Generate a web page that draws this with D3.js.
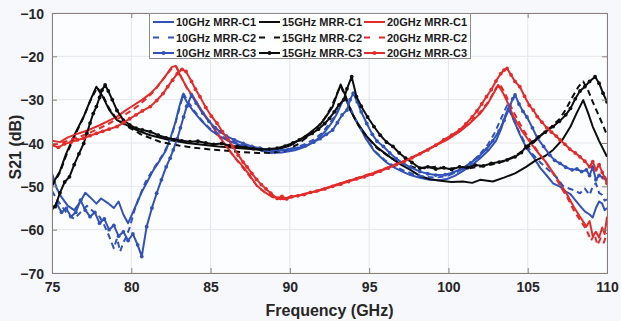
<!DOCTYPE html>
<html><head><meta charset="utf-8">
<script src="https://cdn.jsdelivr.net/npm/d3@7"></script>
<style>html,body{margin:0;padding:0;background:#f6f8fb;} svg{display:block;font-family:"Liberation Sans",Arial,sans-serif;}</style>
</head><body><svg id="c" width="621" height="321"></svg>
<script>
const xTicks=[75,80,85,90,95,100,105,110];
const yTicks=[-10,-20,-30,-40,-50,-60,-70];
const xLabel="Frequency (GHz)";
const yLabel="S21 (dB)";

const blueC1=[[75,-47],[75.3,-50.5],[75.6,-52.5],[76,-54.5],[76.4,-55.5],[76.8,-53.5],[77.1,-51.5],[77.4,-52.5],[77.8,-54],[78.1,-52.8],[78.5,-53.8],[78.9,-55],[79.2,-53.5],[79.5,-56.5],[79.8,-58.5],[80.1,-56],[80.4,-53.5],[80.7,-51],[81,-49],[81.4,-46.2],[81.8,-44],[82.2,-41.6],[82.5,-38.5],[82.8,-35],[83,-32],[83.25,-28.8],[83.5,-30.5],[83.9,-32.6],[84.4,-34.8],[85,-37],[85.5,-38.3],[86,-39.3],[87,-40.7],[88,-41.5],[88.7,-42.3],[89.5,-42.2],[90.4,-41.6],[91,-40.8],[91.5,-39.8],[91.9,-38.6],[92.3,-37],[92.7,-35],[93,-33],[93.3,-30.5],[93.5,-29.7],[93.8,-32],[94.1,-34.5],[94.4,-36.2],[94.8,-39],[95.3,-41.8],[96,-44.2],[96.5,-45.5],[97.1,-46.6],[97.6,-47.4],[98.2,-48],[98.8,-48.5],[99.4,-48.6],[99.9,-48.3],[100.4,-47.6],[100.9,-46.5],[101.5,-45],[102,-43.5],[102.5,-41.8],[103,-39.5],[103.35,-36.5],[103.6,-33.5],[103.8,-31.8],[104.1,-34.5],[104.5,-38],[104.9,-41],[105.35,-43.2],[105.8,-45.8],[106.2,-47.5],[106.6,-49.3],[107,-50],[107.4,-51.2],[107.7,-51.8],[108,-53.2],[108.3,-54.5],[108.6,-55.8],[108.9,-56.5],[109.1,-57.2],[109.3,-55],[109.5,-53.5],[109.7,-54],[109.85,-55.5],[110,-55]];
const blueC2=[[75,-51],[75.3,-53],[75.7,-55],[76,-56.5],[76.4,-57.5],[76.8,-56],[77.2,-54.5],[77.6,-55.8],[78,-57],[78.3,-59],[78.6,-61.5],[78.9,-64.3],[79.1,-62],[79.3,-65],[79.5,-63],[79.7,-61.5],[79.9,-59.5],[80.2,-55.5],[80.5,-52.5],[80.9,-49],[81.3,-46.5],[81.7,-44.3],[82.1,-42],[82.5,-38.8],[82.8,-35.2],[83.05,-31.8],[83.3,-28.6],[83.55,-30.3],[83.95,-32.5],[84.5,-35],[85,-36.8],[85.6,-38.3],[86.2,-39.4],[87,-40.5],[88,-41.3],[88.8,-41.9],[89.6,-41.7],[90.4,-41],[91,-40.2],[91.5,-39.2],[92,-37.8],[92.4,-36],[92.8,-34],[93.1,-31.8],[93.45,-29.5],[93.75,-31.5],[94.1,-34.2],[94.5,-37],[94.9,-39.5],[95.4,-42],[96,-44],[96.6,-45.4],[97.2,-46.4],[97.8,-47.2],[98.5,-47.8],[99.2,-48],[99.9,-47.6],[100.5,-46.8],[101,-45.7],[101.5,-44.3],[102,-42.5],[102.5,-40.3],[102.9,-37.8],[103.3,-34.5],[103.7,-31.3],[104,-33.8],[104.4,-37],[104.8,-39.8],[105.3,-42.5],[105.8,-44.5],[106.3,-46.2],[106.8,-47.8],[107.2,-49.8],[107.6,-50.5],[108,-51],[108.3,-51.6],[108.6,-50.5],[108.9,-52],[109.1,-50],[109.3,-49.3],[109.5,-51.5],[109.7,-52],[109.85,-53.3],[110,-53]];
const blueC3=[[75,-55],[75.3,-54],[75.6,-56],[75.9,-55.1],[76.2,-57],[76.5,-56],[76.8,-53.2],[77.1,-55.5],[77.4,-57],[77.7,-56],[78,-58.5],[78.3,-57.5],[78.6,-60],[78.9,-59],[79.2,-61.5],[79.5,-60.5],[79.8,-62.5],[80.1,-61],[80.4,-63.5],[80.66,-66.2],[80.97,-59.3],[81.3,-55],[81.6,-51.6],[81.9,-48.5],[82.2,-45.5],[82.45,-43.5],[82.65,-41.6],[82.9,-39],[83.1,-36.5],[83.3,-34],[83.5,-31.5],[83.8,-28.9],[84.1,-30.8],[84.5,-33.1],[84.9,-35],[85.3,-36.5],[85.6,-37.4],[86,-38.4],[86.5,-39.3],[87.06,-40.1],[87.6,-40.8],[88.1,-41.2],[88.7,-41.6],[89.3,-41.7],[89.9,-41.5],[90.5,-41.2],[91,-40.6],[91.5,-39.8],[91.9,-39],[92.3,-38],[92.7,-37],[93,-35.3],[93.3,-33.5],[93.6,-32.4],[93.8,-30],[94,-28.5],[94.25,-30.5],[94.5,-32.8],[94.85,-35.5],[95.2,-38],[95.5,-39.6],[95.9,-40.8],[96.3,-42.3],[96.7,-43.6],[97.15,-44.7],[97.6,-45.6],[98.2,-46.6],[98.7,-47.1],[99.2,-47.4],[99.8,-47.3],[100.3,-46.8],[100.9,-45.8],[101.4,-44.6],[101.9,-43.2],[102.4,-41.4],[102.8,-39.5],[103.2,-37.2],[103.5,-34.8],[103.8,-32.3],[104.05,-29.8],[104.2,-28.9],[104.45,-31],[104.7,-32.7],[104.95,-34],[105.3,-36.5],[105.6,-38.8],[106,-40.8],[106.4,-42.8],[106.7,-44],[107.04,-44.7],[107.4,-45.6],[107.8,-46.2],[108.1,-46],[108.4,-46.6],[108.7,-46.2],[108.9,-47.5],[109.1,-45.5],[109.3,-48.5],[109.5,-47.5],[109.75,-48],[110,-48.5]];

const blackC1=[[75,-49.7],[75.5,-46.5],[75.9,-42.4],[76.5,-37.5],[77,-33.9],[77.4,-30.3],[77.8,-27],[78.2,-29.3],[78.6,-32.3],[79.1,-34.7],[79.9,-36.2],[80.5,-37.3],[81.2,-38.2],[82.4,-39.3],[83.5,-40],[84.5,-40.4],[85.5,-40.8],[86.5,-41.1],[87.5,-41.4],[88.5,-41.6],[89.3,-41.4],[90,-40.6],[90.6,-39.3],[91.2,-37.8],[91.9,-35.8],[92.3,-33.8],[92.7,-31.6],[93,-28.5],[93.2,-26.5],[93.5,-29],[93.8,-32.4],[94.3,-35.6],[94.85,-38.5],[95.5,-41],[96.3,-43.2],[97,-45],[97.6,-46.2],[98.2,-47.6],[98.8,-48.3],[99.5,-48.7],[100.2,-49],[100.9,-48.9],[101.5,-49.2],[102,-48.5],[102.8,-48.9],[103.5,-48],[104.2,-47],[104.9,-45.5],[105.5,-44],[106.1,-43],[106.6,-41.6],[107.2,-39.2],[107.7,-36.2],[108.1,-33],[108.5,-30.1],[108.8,-33],[109.1,-36.2],[109.5,-39.5],[110,-43.2]];
const blackC2=[[75,-50],[75.5,-46.8],[75.9,-42.8],[76.5,-37.8],[77,-34],[77.4,-30.4],[77.85,-27.2],[78.2,-29],[78.6,-32],[79.1,-34.6],[79.9,-36.5],[80.6,-38],[81.8,-39.7],[83,-40.6],[84,-41.1],[85,-41.5],[86,-41.8],[87,-42.1],[88,-42.3],[89,-42.2],[89.8,-41.6],[90.5,-40.3],[91.1,-38.6],[91.7,-36.5],[92.2,-34.3],[92.6,-31.8],[92.95,-28.8],[93.2,-26.8],[93.5,-29.3],[93.85,-32.6],[94.3,-35.8],[94.9,-38.8],[95.5,-41.2],[96.3,-43.3],[97,-44.7],[97.8,-45.6],[98.5,-45.8],[99.2,-45.5],[100,-46],[100.7,-45.6],[101.4,-45.8],[102.2,-45.3],[102.8,-44.9],[103.5,-44.2],[104.2,-43],[104.8,-41.6],[105.4,-39.8],[105.9,-38],[106.5,-36.2],[107,-34.5],[107.4,-32.3],[107.8,-29.5],[108.2,-27],[108.5,-25.8],[108.8,-27.8],[109.1,-30.5],[109.4,-33],[109.7,-35.5],[110,-38.2]];
const blackC3=[[75,-55],[75.2,-54.7],[75.5,-51.5],[75.8,-49],[76.1,-47.8],[76.4,-45],[76.7,-42.5],[77,-40.1],[77.2,-37.8],[77.4,-35.4],[77.6,-33.2],[77.8,-31.6],[78,-29.5],[78.15,-27.8],[78.35,-26.6],[78.55,-28],[78.8,-30],[79.1,-32.5],[79.5,-34.7],[79.9,-35.8],[80.3,-36.6],[80.7,-37],[81.2,-37.4],[81.7,-38.2],[82.2,-38.8],[82.7,-39.2],[83.2,-39.5],[83.7,-39.7],[84.2,-39.6],[84.7,-40],[85.2,-40.3],[85.7,-40.1],[86.2,-40.6],[86.7,-40.8],[87.2,-41],[87.7,-41.3],[88.2,-41.5],[88.7,-41.4],[89.2,-41.2],[89.7,-40.7],[90.2,-40],[90.6,-39.3],[91,-38.6],[91.4,-37.8],[91.8,-36.8],[92.2,-35.5],[92.5,-34.3],[92.8,-32.8],[93.1,-31.2],[93.4,-30],[93.6,-27.5],[93.9,-24.7],[94.2,-29.3],[94.5,-31.5],[94.9,-34],[95.3,-36.2],[95.7,-38.2],[96.1,-39.8],[96.5,-40.8],[96.9,-42.3],[97.3,-43.5],[97.7,-44.5],[98.2,-45.8],[98.7,-45.5],[99.2,-46],[99.7,-45.7],[100.2,-46.1],[100.7,-45.5],[101.2,-45.7],[101.7,-45.1],[102.2,-45.3],[102.7,-44.7],[103.2,-44.4],[103.7,-43.9],[104.2,-43.2],[104.6,-42.2],[104.9,-40.8],[105.3,-39.8],[105.7,-38.6],[106.1,-37.5],[106.6,-36.2],[107,-35],[107.4,-33.5],[107.7,-32],[108,-29.8],[108.3,-28],[108.6,-27],[108.9,-25.8],[109.25,-24.7],[109.5,-26.2],[109.75,-28.5],[110,-30.5]];

const redC1=[[75,-39.5],[75.5,-39.8],[76,-38.7],[76.5,-38],[77,-37.4],[77.5,-36.7],[78,-35.9],[78.5,-35],[79.1,-33.9],[79.6,-32.6],[80.1,-31.4],[80.7,-30],[81.2,-28.6],[81.6,-27.1],[82,-25.3],[82.3,-23.8],[82.55,-22.5],[82.8,-22.2],[83.1,-24.5],[83.5,-27.2],[83.9,-29.3],[84.4,-32.3],[85,-35.4],[85.5,-38.2],[86,-40.8],[86.5,-43.2],[87.06,-45.5],[87.5,-47.6],[87.9,-49.8],[88.4,-51.3],[88.9,-52.5],[89.3,-52.6],[89.6,-53],[90,-52.4],[90.5,-52.2],[91.06,-51.6],[91.6,-51.2],[92.2,-50.5],[93.2,-49.3],[94.2,-48.2],[95.26,-47],[96,-45.9],[96.9,-44.7],[97.8,-43.2],[98.8,-41.3],[99.9,-39.3],[100.7,-37.4],[101.4,-35.3],[102,-33.2],[102.5,-30.8],[102.85,-28.5],[103.15,-26.6],[103.45,-28.5],[103.8,-31.2],[104.1,-33.9],[104.6,-37],[105.1,-39.6],[105.6,-42],[106.1,-44.2],[106.6,-46.8],[107.04,-49.3],[107.5,-52],[107.9,-54.7],[108.3,-57],[108.7,-59.3],[108.9,-58],[109.1,-61.5],[109.3,-60.5],[109.5,-61.8],[109.7,-59.5],[109.85,-61],[110,-57]];
const redC2=[[75,-40.5],[75.6,-40],[76.2,-39.2],[76.8,-38.5],[77.4,-37.6],[78,-36.6],[78.6,-35.5],[79.2,-34.3],[79.8,-33],[80.4,-31.5],[81,-29.6],[81.5,-27.8],[81.9,-25.8],[82.3,-23.9],[82.6,-22.6],[82.85,-22.4],[83.15,-24.8],[83.55,-27.6],[84,-30],[84.5,-33],[85.1,-36],[85.6,-38.8],[86.1,-41.3],[86.6,-43.7],[87.1,-46],[87.6,-48.3],[88,-50.2],[88.5,-51.6],[89,-52.4],[89.4,-53],[89.8,-52.7],[90.3,-52.3],[91,-51.7],[91.7,-51.1],[92.4,-50.3],[93.3,-49.2],[94.3,-48],[95.3,-46.8],[96.2,-45.6],[97.1,-44.3],[98,-42.8],[99,-40.9],[100,-38.9],[100.8,-37],[101.5,-34.8],[102.1,-32.5],[102.6,-30],[102.95,-27.6],[103.2,-26.3],[103.5,-28],[103.85,-30.8],[104.2,-33.5],[104.7,-36.8],[105.2,-39.6],[105.7,-42.3],[106.2,-44.8],[106.7,-47.6],[107.1,-50.2],[107.5,-52.6],[107.9,-55.5],[108.3,-57.8],[108.7,-60],[109,-62.5],[109.2,-61],[109.4,-63.5],[109.6,-62],[109.8,-63],[110,-60.8]];
const redC3=[[75,-40.5],[75.4,-41],[75.8,-40.2],[76.2,-39.8],[76.6,-39.3],[77,-38.9],[77.4,-38.3],[77.8,-37.8],[78.2,-37.3],[78.6,-36.8],[79.1,-36.2],[79.5,-35.3],[79.9,-34.4],[80.3,-33.5],[80.7,-32.6],[81.2,-31.6],[81.6,-30.2],[82,-28.6],[82.3,-27],[82.6,-25.5],[82.9,-24],[83.2,-23],[83.45,-23.5],[83.8,-25.8],[84.05,-27.6],[84.33,-29.3],[84.7,-31.8],[85.05,-33.8],[85.4,-35.4],[85.75,-37.4],[86.1,-39.2],[86.4,-40.8],[86.75,-42.8],[87.05,-44.4],[87.3,-45.5],[87.6,-47],[87.9,-48.4],[88.2,-49.6],[88.5,-50.6],[88.8,-51.6],[89.2,-52.8],[89.5,-52.3],[89.8,-52.9],[90.1,-52.4],[90.5,-52.2],[90.9,-51.9],[91.3,-51.4],[91.7,-51.1],[92.2,-50.6],[92.7,-50],[93.2,-49.5],[93.7,-48.9],[94.2,-48.3],[94.7,-47.8],[95.2,-47.2],[95.7,-46.5],[96.2,-45.8],[96.7,-45],[97.2,-44.3],[97.7,-43.4],[98.2,-42.5],[98.7,-41.6],[99.2,-40.5],[99.7,-39.3],[100.2,-38.2],[100.7,-37],[101.1,-35.6],[101.5,-34],[101.8,-32.6],[102.1,-31],[102.4,-29.3],[102.7,-27.7],[103,-25.7],[103.3,-24],[103.5,-23.2],[103.7,-22.8],[103.95,-24.3],[104.2,-25.8],[104.5,-27],[104.8,-29.2],[105.1,-31.3],[105.35,-32.4],[105.6,-33.9],[105.9,-35.2],[106.2,-36.5],[106.5,-37.5],[106.8,-38.4],[107.04,-39.3],[107.35,-40.3],[107.65,-41.4],[108,-42.3],[108.3,-43.2],[108.6,-44.2],[108.9,-45.5],[109.1,-44.3],[109.3,-46.2],[109.5,-45],[109.7,-46.8],[109.85,-48],[110,-49.3]];

const seriesNames=["10GHz MRR-C1","15GHz MRR-C1","20GHz MRR-C1","10GHz MRR-C2","15GHz MRR-C2","20GHz MRR-C2","10GHz MRR-C3","15GHz MRR-C3","20GHz MRR-C3"];
const seriesData=[blueC1,blackC1,redC1,blueC2,blackC2,redC2,blueC3,blackC3,redC3];
const colors={blue:"#3152b8",black:"#0d0d0d",red:"#e52a2a"};
const seriesColor=[colors.blue,colors.black,colors.red,colors.blue,colors.black,colors.red,colors.blue,colors.black,colors.red];
const seriesStyle=["solid","solid","solid","dash","dash","dash","marker","marker","marker"];

const svg=d3.select("#c");
const L=52,R=607,T=13,B=273;
const x=d3.scaleLinear().domain([75,110]).range([L,R]);
const y=d3.scaleLinear().domain([-70,-10]).range([B,T]);

svg.append("rect").attr("x",L).attr("y",T).attr("width",R-L).attr("height",B-T).attr("fill","#fcfdfe");

// grid
const grid=svg.append("g");
grid.selectAll("line.gx").data(xTicks).join("line").attr("x1",d=>x(d)).attr("x2",d=>x(d)).attr("y1",T).attr("y2",B).attr("stroke","#e4e6ea").attr("stroke-width",1);
grid.selectAll("line.gy").data(yTicks).join("line").attr("y1",d=>y(d)).attr("y2",d=>y(d)).attr("x1",L).attr("x2",R).attr("stroke","#e4e6ea").attr("stroke-width",1);

// data
const clip=svg.append("defs").append("clipPath").attr("id","pc").append("rect").attr("x",L).attr("y",T).attr("width",R-L).attr("height",B-T);
const plot=svg.append("g").attr("clip-path","url(#pc)");
const line=d3.line().x(d=>x(d[0])).y(d=>y(d[1]));
seriesData.forEach((s,i)=>{
  const p=plot.append("path").attr("d",line(s)).attr("fill","none").attr("stroke",seriesColor[i]).attr("stroke-width",2).attr("stroke-linejoin","round");
  if(seriesStyle[i]==="dash") p.attr("stroke-dasharray","6,4");
  if(seriesStyle[i]==="marker"){
    plot.append("g").selectAll("circle").data(s).join("circle").attr("cx",d=>x(d[0])).attr("cy",d=>y(d[1])).attr("r",1.9).attr("fill",seriesColor[i]);
  }
});

// axes
const ax=svg.append("g");
const axisColor="#8a7f78";
const xb=ax.append("g").attr("transform",`translate(0,${B})`).call(d3.axisBottom(x).tickValues(xTicks).tickSize(-5).tickPadding(9).tickFormat(d3.format("d")));
const xt=ax.append("g").attr("transform",`translate(0,${T})`).call(d3.axisTop(x).tickValues(xTicks).tickSize(-5).tickFormat(""));
const yl=ax.append("g").attr("transform",`translate(${L},0)`).call(d3.axisLeft(y).tickValues(yTicks).tickSize(-5).tickPadding(8).tickFormat(d3.format("d")));
const yr=ax.append("g").attr("transform",`translate(${R},0)`).call(d3.axisRight(y).tickValues(yTicks).tickSize(-5).tickFormat(""));
[xb,xt,yl,yr].forEach(g=>{g.selectAll("path").attr("stroke",axisColor).attr("stroke-width",1);g.selectAll("line").attr("stroke",axisColor);});
[xb,yl].forEach(g=>g.selectAll("text").attr("fill","#262626").attr("font-size",14).attr("font-weight","bold").attr("font-family","'Liberation Sans',Arial,sans-serif"));
yl.selectAll("text").attr("dy","0.36em");

svg.append("text").attr("x",(L+R)/2).attr("y",315.5).attr("text-anchor","middle").attr("font-size",16).attr("font-weight","bold").attr("fill","#262626").text(xLabel);
svg.append("text").attr("transform",`translate(21,${(T+B)/2+4}) rotate(-90)`).attr("text-anchor","middle").attr("font-size",16).attr("font-weight","bold").attr("fill","#262626").text(yLabel);

// legend
const lg=svg.append("g");
lg.append("rect").attr("x",149.5).attr("y",13.5).attr("width",321).attr("height",45).attr("fill","#ffffff").attr("stroke","#8c8c8c").attr("stroke-width",1);
const colX=[176,282,387], rowY=[22,37.5,53];
seriesNames.forEach((n,i)=>{
  const c=i%3, r=Math.floor(i/3);
  const tx=colX[c], ty=rowY[r];
  const ln=lg.append("line").attr("x1",tx-23).attr("x2",tx-2).attr("y1",ty).attr("y2",ty).attr("stroke",seriesColor[i]).attr("stroke-width",2);
  if(seriesStyle[i]==="dash") ln.attr("stroke-dasharray","6,9");
  if(seriesStyle[i]==="marker") lg.append("circle").attr("cx",tx-12.5).attr("cy",ty).attr("r",1.9).attr("fill",seriesColor[i]);
  lg.append("text").attr("x",tx).attr("y",ty+4).attr("font-size",11).attr("font-weight","bold").attr("fill","#1a1a1a").text(n);
});
</script></body></html>
